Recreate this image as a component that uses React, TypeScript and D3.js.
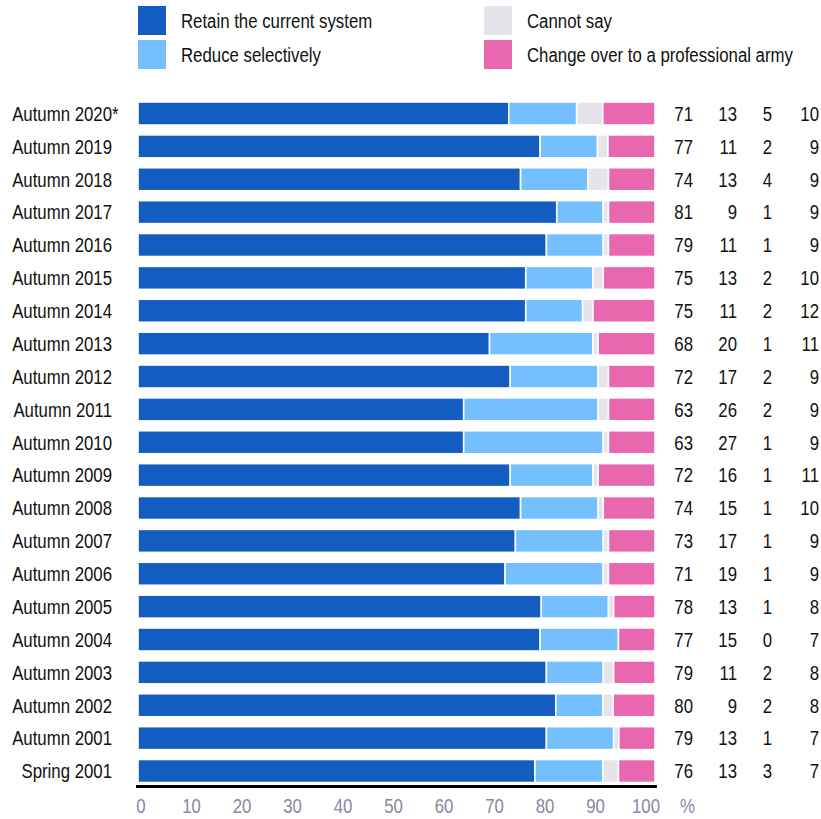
import React from "react";
import * as d3 from "d3";

// Survey periods, top to bottom
const periods = [
  "Autumn 2020*", "Autumn 2019", "Autumn 2018", "Autumn 2017", "Autumn 2016",
  "Autumn 2015", "Autumn 2014", "Autumn 2013", "Autumn 2012", "Autumn 2011",
  "Autumn 2010", "Autumn 2009", "Autumn 2008", "Autumn 2007", "Autumn 2006",
  "Autumn 2005", "Autumn 2004", "Autumn 2003", "Autumn 2002", "Autumn 2001",
  "Spring 2001",
];

// Response shares (%) per period
const retain = [71, 77, 74, 81, 79, 75, 75, 68, 72, 63, 63, 72, 74, 73, 71, 78, 77, 79, 80, 79, 76];
const reduce = [13, 11, 13, 9, 11, 13, 11, 20, 17, 26, 27, 16, 15, 17, 19, 13, 15, 11, 9, 13, 13];
const cannotSay = [5, 2, 4, 1, 1, 2, 2, 1, 2, 2, 1, 1, 1, 1, 1, 1, 0, 2, 2, 1, 3];
const professional = [10, 9, 9, 9, 9, 10, 12, 11, 9, 9, 9, 11, 10, 9, 9, 8, 7, 8, 8, 7, 7];

const seriesKeys = ["retain", "reduce", "cannotSay", "professional"];
const seriesNames = [
  "Retain the current system",
  "Reduce selectively",
  "Cannot say",
  "Change over to a professional army",
];
const seriesColors = ["#135cc0", "#74bffe", "#e6e3eb", "#e867ae"];

const axisTicks = [0, 10, 20, 30, 40, 50, 60, 70, 80, 90, 100];

const FONT = "'Liberation Sans', Arial, sans-serif";
const FONT_SIZE = 21;
const NARROW = 0.8;

// Condensed text: regular face squeezed horizontally
function CText({
  x,
  y,
  anchor = "start",
  fill = "#111",
  children,
}: {
  x: number;
  y: number;
  anchor?: "start" | "middle" | "end";
  fill?: string;
  children: React.ReactNode;
}) {
  return (
    <text
      transform={`translate(${x},${y}) scale(${NARROW},1)`}
      dy="0.35em"
      textAnchor={anchor}
      fontSize={FONT_SIZE}
      fill={fill}
    >
      {children}
    </text>
  );
}

export default function App() {
  const width = 821;
  const height = 819;

  const rows = periods.map((p, i) => ({
    period: p,
    retain: retain[i],
    reduce: reduce[i],
    cannotSay: cannotSay[i],
    professional: professional[i],
  }));

  const stack = d3.stack<any>().keys(seriesKeys).offset(d3.stackOffsetExpand);
  const layers = stack(rows);

  const x = d3.scaleLinear().domain([0, 1]).range([138, 655]);
  const tickX = d3.scaleLinear().domain([0, 100]).range([141, 646]);
  const y = d3
    .scaleBand<string>()
    .domain(periods)
    .range([97.07, 787.44])
    .paddingInner(0.3)
    .paddingOuter(0.15);

  const valueCols = [693, 737, 772, 819];
  const valueArrays = [retain, reduce, cannotSay, professional];

  const legendPos = [
    { x: 138, y: 6 },
    { x: 138, y: 40 },
    { x: 484, y: 6 },
    { x: 484, y: 40 },
  ];

  return (
    <svg
      width={width}
      height={height}
      style={{ position: "absolute", left: 0, top: 0, background: "#fff" }}
      fontFamily={FONT}
    >
      {/* legend */}
      {seriesNames.map((name, i) => (
        <g key={name}>
          <rect
            x={legendPos[i].x}
            y={legendPos[i].y}
            width={28}
            height={29}
            fill={seriesColors[i]}
          />
          <CText x={legendPos[i].x + 43} y={legendPos[i].y + 14.5}>
            {name}
          </CText>
        </g>
      ))}

      {/* stacked bars */}
      {layers.map((layer, li) => (
        <g key={layer.key} fill={seriesColors[li]}>
          {layer.map((d, i) => {
            const w = x(d[1]) - x(d[0]);
            if (w <= 0) return null;
            return (
              <rect
                key={i}
                x={x(d[0])}
                y={y(periods[i])}
                width={w}
                height={y.bandwidth()}
                stroke="#fff"
                strokeWidth={1.6}
              />
            );
          })}
        </g>
      ))}

      {/* period labels */}
      {periods.map((p) => {
        const cy = (y(p) as number) + y.bandwidth() / 2;
        const star = p.endsWith("*");
        const base = star ? p.slice(0, -1) : p;
        return (
          <g key={p}>
            <CText x={112} y={cy} anchor="end">
              {base}
            </CText>
            {star && (
              <CText x={112} y={cy}>
                *
              </CText>
            )}
          </g>
        );
      })}

      {/* value columns */}
      {valueArrays.map((arr, ci) =>
        arr.map((v, i) => (
          <CText
            key={`${ci}-${i}`}
            x={valueCols[ci]}
            y={(y(periods[i]) as number) + y.bandwidth() / 2}
            anchor="end"
          >
            {v}
          </CText>
        ))
      )}

      {/* axis */}
      <line x1={136} x2={657} y1={786.5} y2={786.5} stroke="#000" strokeWidth={3} />
      {axisTicks.map((t) => (
        <CText key={t} x={tickX(t)} y={806} anchor="middle" fill="#8e84a6">
          {t}
        </CText>
      ))}
      <CText x={680} y={806} fill="#8e84a6">
        %
      </CText>
    </svg>
  );
}
